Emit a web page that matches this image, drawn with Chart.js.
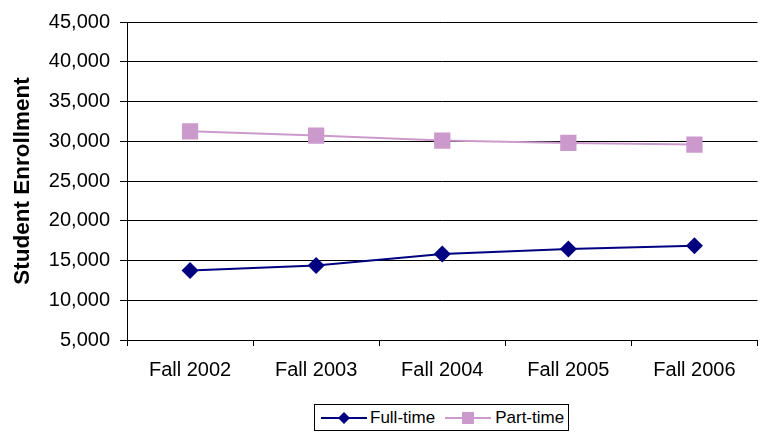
<!DOCTYPE html>
<html>
<head>
<meta charset="utf-8">
<script src="https://cdn.jsdelivr.net/npm/chart.js@4/dist/chart.umd.min.js"></script>
<style>
  html, body { margin: 0; padding: 0; background: #fff; }
  #wrap { position: relative; width: 769px; height: 432px; }
  #c { position: absolute; left: 0; top: 0; }
  #legend {
    position: absolute; left: 314px; top: 404px; width: 253px; height: 25px;
    border: 1px solid #000; background: #fff;
    font-family: "Liberation Sans", Arial, sans-serif; font-size: 17px; color: #000;
    display: flex; align-items: center; box-sizing: content-box;
  }
  #legend .item { display: flex; align-items: center; }
  #legend svg { display: block; }
</style>
</head>
<body>
<div id="wrap">
  <canvas id="c" width="769" height="432"></canvas>
  <div id="legend">
    <div class="item" style="margin-left:6px">
      <svg width="46" height="20"><line x1="0" y1="10" x2="46" y2="10" stroke="#000080" stroke-width="2"/><polygon points="23,4 29,10 23,16 17,10" fill="#000080"/></svg>
      <span style="margin-left:3px">Full-time</span>
    </div>
    <div class="item" style="margin-left:10px">
      <svg width="46" height="20"><line x1="0" y1="10" x2="46" y2="10" stroke="#CC99CC" stroke-width="2"/><rect x="17" y="4" width="12" height="12" fill="#CC99CC"/></svg>
      <span style="margin-left:4px">Part-time</span>
    </div>
  </div>
</div>
<script>
const categories = ["Fall 2002", "Fall 2003", "Fall 2004", "Fall 2005", "Fall 2006"];
const fullTime = [13750, 14370, 15830, 16460, 16850];
const partTime = [31250, 30710, 30090, 29790, 29580];
const yMin = 5000, yMax = 45000, yStep = 5000;
const yTitle = "Student Enrollment";

const FONT = '"Liberation Sans", Arial, sans-serif';

new Chart(document.getElementById('c'), {
  type: 'line',
  data: {
    labels: categories,
    datasets: [
      {
        label: 'Full-time', data: fullTime,
        borderColor: '#000080', backgroundColor: '#000080', borderWidth: 2,
        pointStyle: 'rectRot', pointRadius: 8.5, pointHoverRadius: 8.5,
        pointBorderWidth: 0, tension: 0, fill: false
      },
      {
        label: 'Part-time', data: partTime,
        borderColor: '#CC99CC', backgroundColor: '#CC99CC', borderWidth: 2,
        pointStyle: 'rect', pointRadius: 11.5, pointHoverRadius: 11.5,
        pointBorderWidth: 0, tension: 0, fill: false
      }
    ]
  },
  options: {
    responsive: false,
    animation: false,
    devicePixelRatio: 1,
    layout: { padding: { top: 21, right: 0, bottom: 38, left: 0 } },
    plugins: { legend: { display: false }, tooltip: { enabled: false } },
    scales: {
      x: {
        offset: true,
        grid: { offset: true, drawOnChartArea: false, drawTicks: true, tickLength: 6, color: '#000', lineWidth: 1 },
        border: { display: true, color: '#000', width: 1 },
        ticks: { color: '#000', font: { family: FONT, size: 20 }, padding: 12, maxRotation: 0, autoSkip: false }
      },
      y: {
        min: yMin, max: yMax,
        grid: { color: '#000', lineWidth: 1, tickLength: 7, drawTicks: true },
        border: { display: true, color: '#000', width: 1 },
        ticks: {
          stepSize: yStep, color: '#000', padding: 10,
          font: { family: FONT, size: 20 },
          callback: v => Number(v).toLocaleString('en-US')
        },
        title: {
          display: true, text: yTitle, color: '#000',
          font: { family: FONT, size: 22.5, weight: 'bold' },
          padding: { top: 9, bottom: 0 }
        },
        afterFit: s => { s.width = 127; }
      }
    }
  }
});
</script>
</body>
</html>
